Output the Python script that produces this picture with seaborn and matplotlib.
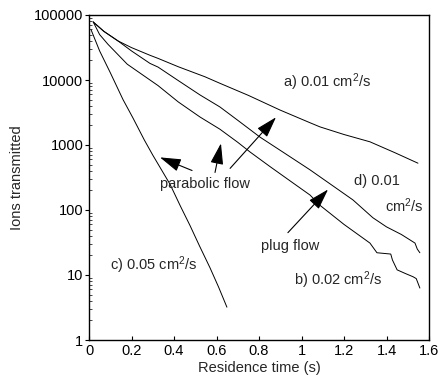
import matplotlib
matplotlib.use("Agg")
import matplotlib.pyplot as plt
import seaborn as sns
import pandas as pd
import numpy as np
from matplotlib.ticker import LogLocator, NullFormatter, FixedLocator

# Data (time in s, ions transmitted)
t_a = [0.02, 0.07, 0.136, 0.2, 0.287, 0.325, 0.42, 0.546, 0.616, 0.75, 0.899, 1.04, 1.087, 1.2, 1.322, 1.44, 1.548]
ions_a = [78000, 56000, 40000, 31500, 24000, 21500, 16000, 11200, 8900, 5800, 3450, 2200, 1900, 1450, 1120, 760, 525]

t_d = [0.02, 0.07, 0.136, 0.2, 0.287, 0.325, 0.42, 0.522, 0.616, 0.7, 0.805, 0.92, 1.04, 1.14, 1.242, 1.336, 1.40, 1.47, 1.534, 1.545, 1.557]
ions_d = [78000, 56000, 40000, 28000, 18000, 15800, 9800, 5900, 3850, 2400, 1320, 750, 415, 245, 143, 76, 55, 42, 31, 25, 22]

t_b = [0.02, 0.05, 0.089, 0.18, 0.287, 0.325, 0.42, 0.522, 0.616, 0.7, 0.758, 0.85, 0.95, 1.04, 1.087, 1.2, 1.322, 1.355, 1.42, 1.428, 1.45, 1.49, 1.525, 1.54, 1.557]
ions_b = [78000, 50000, 35500, 17500, 10000, 8200, 4600, 2700, 1750, 1100, 780, 470, 275, 170, 118, 60, 31, 22, 21, 17, 12, 10.5, 9.4, 8.8, 6.3]

t_c = [0.01, 0.05, 0.1, 0.16, 0.207, 0.26, 0.3, 0.381, 0.43, 0.475, 0.52, 0.569, 0.61, 0.649]
ions_c = [59000, 28000, 13000, 5000, 2600, 1200, 700, 250, 115, 58, 28, 13, 6.5, 3.2]

x_ticks = [0, 0.2, 0.4, 0.6, 0.8, 1, 1.2, 1.4, 1.6]
y_ticks = [1, 10, 100, 1000, 10000, 100000]
y_tick_labels = ["1", "10", "100", "1000", "10000", "100000"]

frames = []
for name, t, v in [("a", t_a, ions_a), ("d", t_d, ions_d), ("b", t_b, ions_b), ("c", t_c, ions_c)]:
    frames.append(pd.DataFrame({"time": t, "ions": v, "curve": name}))
df = pd.concat(frames, ignore_index=True)

sns.set_style("ticks")
plt.rcParams["font.family"] = ["Liberation Sans", "DejaVu Sans"]
plt.rcParams["mathtext.default"] = "regular"

fig = plt.figure(figsize=(4.41, 3.78), dpi=100)
ax = fig.add_axes([89 / 441, 1 - 340 / 378, 340 / 441, 325 / 378])

for name in ["a", "d", "b", "c"]:
    sub = df[df["curve"] == name]
    sns.lineplot(data=sub, x="time", y="ions", ax=ax, color="black", lw=0.7,
                 estimator=None, sort=False, legend=False)

ax.set_yscale("log")
ax.set_xlim(0, 1.6)
ax.set_ylim(1, 100000)
ax.xaxis.set_major_locator(FixedLocator(x_ticks))
ax.set_xticklabels([("%g" % v) for v in x_ticks])
ax.yaxis.set_major_locator(FixedLocator(y_ticks))
ax.set_yticklabels(y_tick_labels)
ax.yaxis.set_minor_locator(LogLocator(base=10, subs=np.arange(2, 10)))
ax.yaxis.set_minor_formatter(NullFormatter())

for s in ax.spines.values():
    s.set_linewidth(1.0)
    s.set_color("black")

ax.tick_params(axis="x", which="major", direction="in", length=3, width=0.8,
               labelsize=10.5, pad=3, top=False, colors="black")
ax.tick_params(axis="y", which="major", direction="out", length=3, width=0.8,
               labelsize=10.5, pad=1, right=False, colors="black")
ax.tick_params(axis="y", which="minor", direction="in", length=2.5, width=0.6, right=False)

ax.set_xlabel("Residence time (s)", fontsize=10.5, labelpad=2)
ax.set_ylabel("Ions transmitted", fontsize=10.5, labelpad=7)

fs = 10.5
ax.text(0.913, 9250, "a) 0.01 cm$^{2}$/s", fontsize=fs, va="center", ha="left")
ax.text(1.247, 275, "d) 0.01", fontsize=fs, va="center", ha="left")
ax.text(1.393, 117, "cm$^{2}$/s", fontsize=fs, va="center", ha="left")
ax.text(0.965, 8.4, "b) 0.02 cm$^{2}$/s", fontsize=fs, va="center", ha="left")
ax.text(0.099, 14.4, "c) 0.05 cm$^{2}$/s", fontsize=fs, va="center", ha="left")
ax.text(0.334, 255, "parabolic flow", fontsize=fs, va="center", ha="left")
ax.text(0.81, 28, "plug flow", fontsize=fs, va="center", ha="left")

arrow_kw = dict(arrowstyle="-|>,head_length=1.3,head_width=0.4", color="black",
                lw=0.8, shrinkA=0, shrinkB=0)
ax.annotate("", xy=(0.334, 645), xytext=(0.485, 405), arrowprops=arrow_kw)
ax.annotate("", xy=(0.621, 1060), xytext=(0.593, 378), arrowprops=arrow_kw)
ax.annotate("", xy=(0.88, 2670), xytext=(0.664, 437), arrowprops=arrow_kw)
ax.annotate("", xy=(1.125, 207), xytext=(0.936, 44.8), arrowprops=arrow_kw)

fig.savefig("out.png", dpi=100)
